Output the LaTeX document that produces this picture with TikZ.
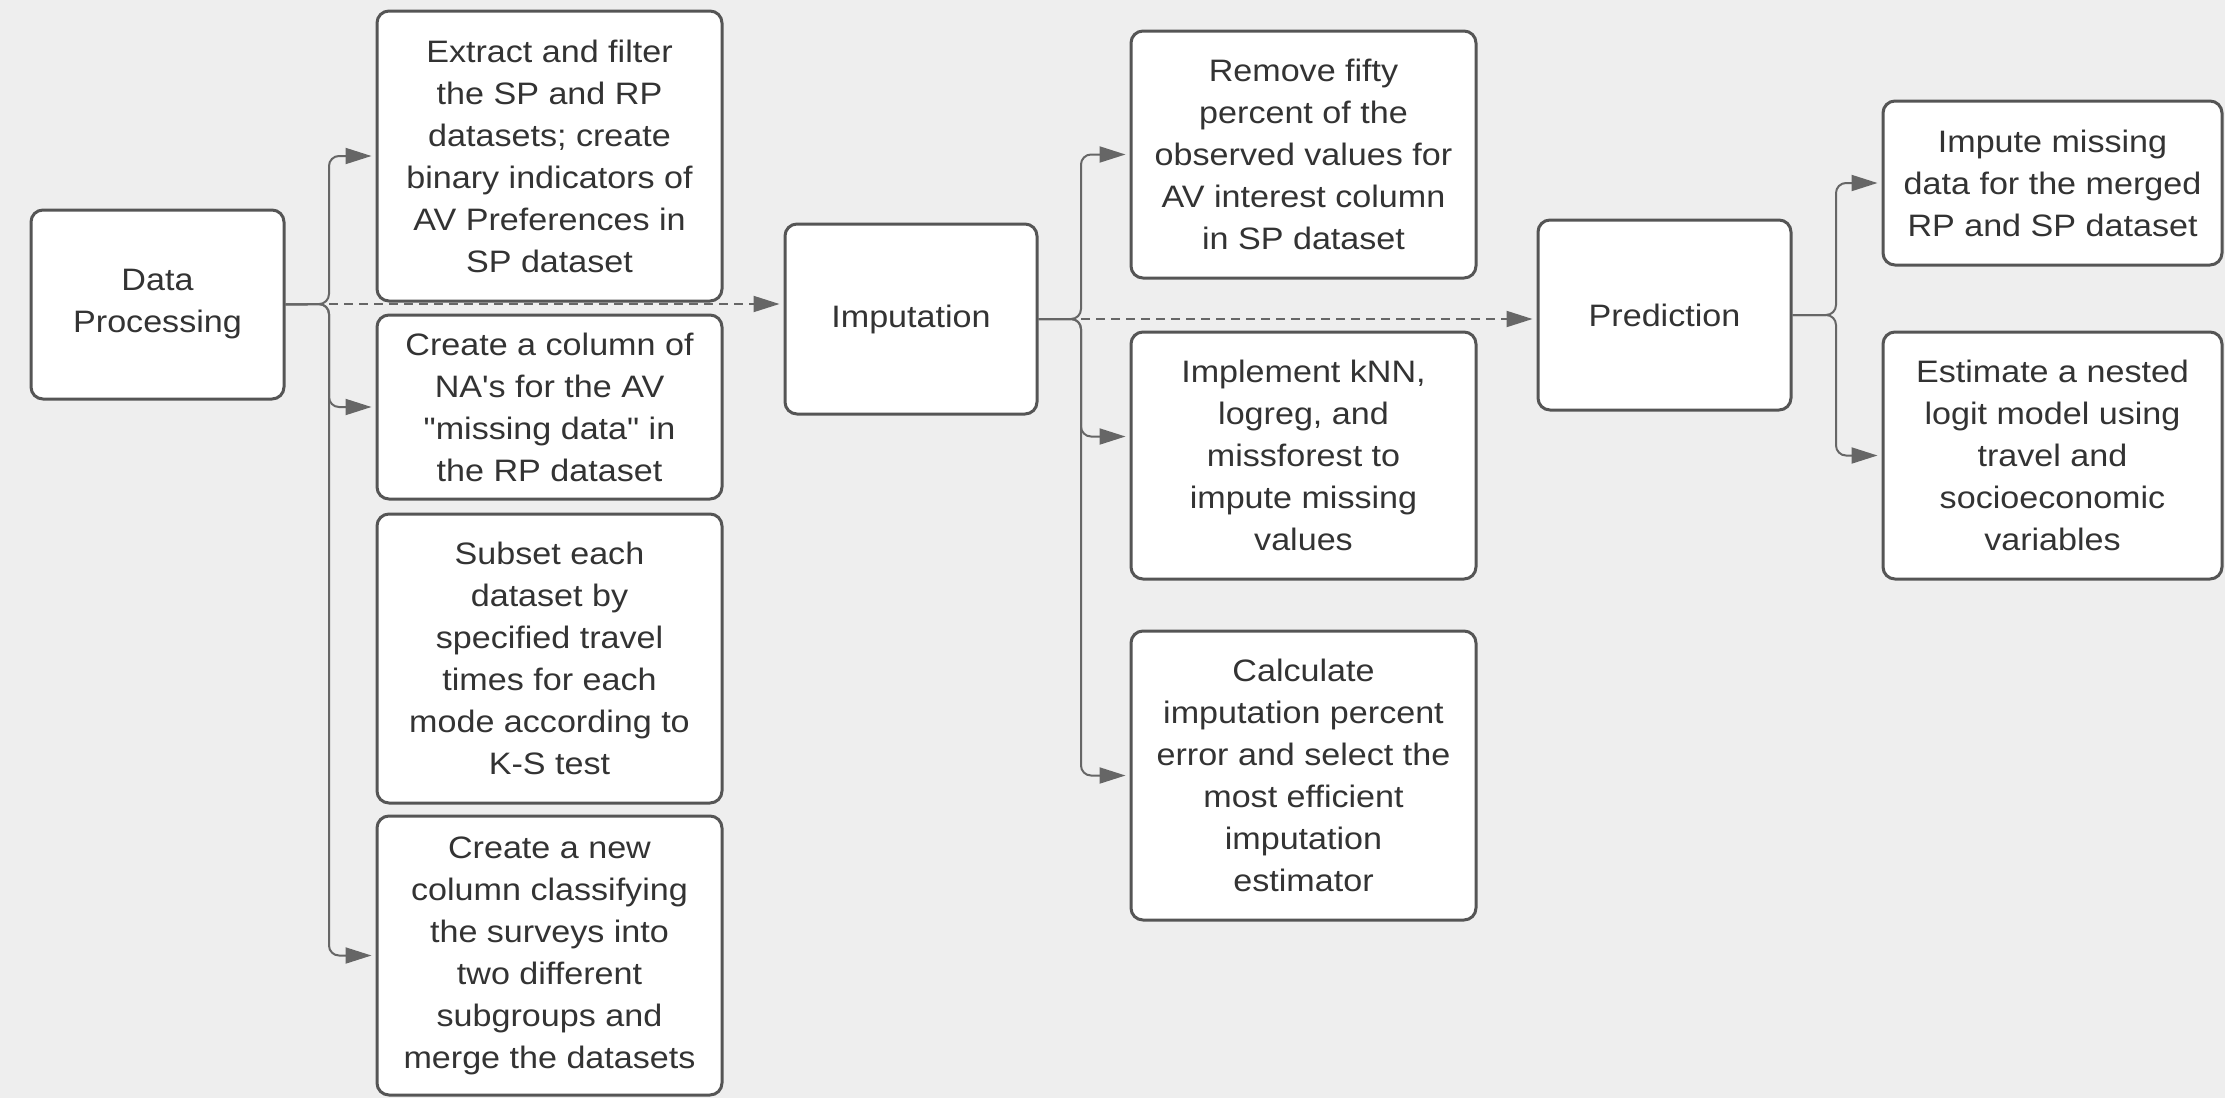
\documentclass[tikz,border=0pt]{standalone}
\usepackage{fontspec}
\setmainfont{Liberation Sans}[FakeStretch=1.1, Ligatures=TeXOff]
\usetikzlibrary{arrows.meta}
\definecolor{bg}{HTML}{EEEEEE}
\definecolor{bord}{HTML}{555555}
\definecolor{lnc}{HTML}{666666}
\definecolor{txt}{HTML}{333333}
\begin{document}
\begin{tikzpicture}[x=1pt,y=-1pt,
 box/.style={draw=bord, line width=3pt, fill=white, rounded corners=12pt, inner sep=0pt, align=center, text=txt, font=\fontsize{31}{42}\selectfont},
 link/.style={draw=lnc, line width=2pt, rounded corners=10pt},
 arr/.style={link, -{Triangle[length=26pt,width=16pt]}, shorten >=4pt},
 darr/.style={draw=lnc, line width=2pt, dash pattern=on 9pt off 6pt, -{Triangle[length=26pt,width=16pt]}, shorten >=4pt}]
\useasboundingbox (0,0) rectangle (2225,1098);
\fill[bg] (0,0) rectangle (2225,1098);

% column 0
\node[box, minimum width=253pt, minimum height=189pt] (dp) at (157.5,304.5) {Data\\Processing};
% column 1
\node[box, minimum width=345pt, minimum height=290pt] (b1) at (549.5,156) {Extract and filter\\the SP and RP\\datasets; create\\binary indicators of\\AV Preferences in\\SP dataset};
\node[box, minimum width=345pt, minimum height=184pt] (b2) at (549.5,407) {Create a column of\\NA's for the AV\\"missing data" in\\the RP dataset};
\node[box, minimum width=345pt, minimum height=289pt] (b3) at (549.5,658.5) {Subset each\\dataset by\\specified travel\\times for each\\mode according to\\K-S test};
\node[box, minimum width=345pt, minimum height=279pt] (b4) at (549.5,955.5) {Create a new\\column classifying\\the surveys into\\two different\\subgroups and\\merge the datasets};
% imputation
\node[box, minimum width=252pt, minimum height=190pt] (imp) at (911,319) {Imputation};
\node[box, minimum width=345pt, minimum height=247pt] (r1) at (1303.5,154.5) {Remove fifty\\percent of the\\observed values for\\AV interest column\\in SP dataset};
\node[box, minimum width=345pt, minimum height=247pt] (r2) at (1303.5,455.5) {Implement kNN,\\logreg, and\\missforest to\\impute missing\\values};
\node[box, minimum width=345pt, minimum height=289pt] (r3) at (1303.5,775.5) {Calculate\\imputation percent\\error and select the\\most efficient\\imputation\\estimator};
% prediction
\node[box, minimum width=253pt, minimum height=190pt] (pred) at (1664.5,315) {Prediction};
\node[box, minimum width=339pt, minimum height=164pt] (p1) at (2052.5,183) {Impute missing\\data for the merged\\RP and SP dataset};
\node[box, minimum width=339pt, minimum height=247pt] (p2) at (2052.5,455.5) {Estimate a nested\\logit model using\\travel and\\socioeconomic\\variables};

\coordinate (t1) at (329,304);
\coordinate (t2) at (1081,319);
\coordinate (t3) at (1836,315);

\draw[arr] (dp.east) -- (t1) |- (b1.west);
\draw[arr] (dp.east) -- (t1) |- (b2.west);
\draw[arr] (dp.east) -- (t1) |- (b4.west);
\draw[darr] (t1) -- (t1 -| imp.west);

\draw[arr] (imp.east) -- (t2) |- (r1.west);
\draw[arr] (imp.east) -- (t2) |- ([yshift=19pt]r2.west);
\draw[arr] (imp.east) -- (t2) |- (r3.west);
\draw[darr] (t2) -- (t2 -| pred.west);

\draw[arr] (pred.east) -- (t3) |- (p1.west);
\draw[arr] (pred.east) -- (t3) |- (p2.west);
\end{tikzpicture}
\end{document}
